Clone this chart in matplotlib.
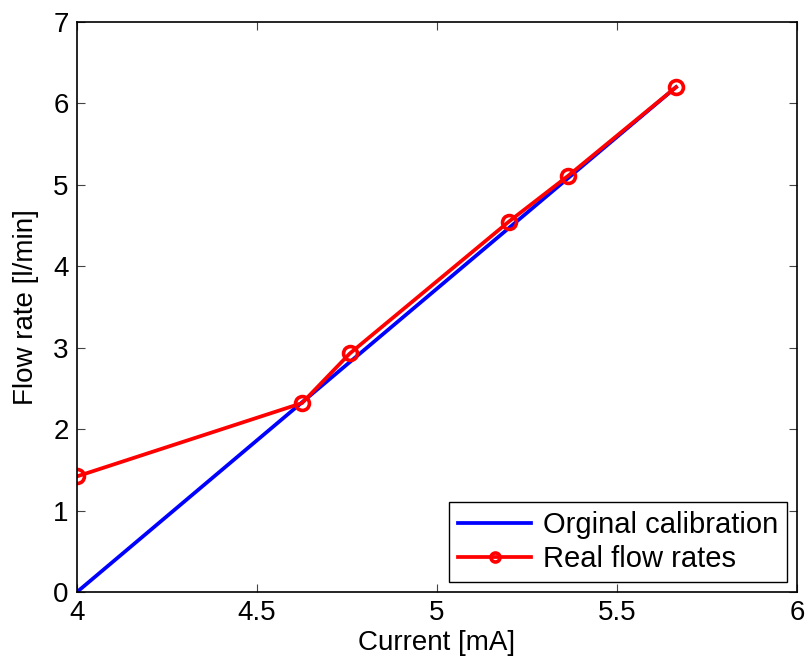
import matplotlib
matplotlib.use("Agg")
import matplotlib.pyplot as plt

calib_current = [4.0, 5.664]
calib_flow = [0.0, 6.2]

real_current = [4.0, 4.625, 4.758, 5.2, 5.364, 5.664]
real_flow = [1.42, 2.32, 2.93, 4.55, 5.11, 6.2]

plt.rcParams["font.family"] = ["Liberation Sans", "DejaVu Sans"]

fig = plt.figure(figsize=(8.08, 6.66), dpi=100)
ax = fig.add_axes([77 / 808, 74 / 666, 720 / 808, 570 / 666])

ax.plot(calib_current, calib_flow, color="blue", linewidth=2.7,
        label="Orginal calibration")
ax.plot(real_current, real_flow, color="red", linewidth=2.7, marker="o",
        markersize=10, markerfacecolor="none", markeredgewidth=2.6,
        label="Real flow rates")

ax.set_xlim(4, 6)
ax.set_ylim(0, 7)
ax.set_xticks([4, 4.5, 5, 5.5, 6])
ax.set_xticklabels(["4", "4.5", "5", "5.5", "6"])
ax.set_yticks(range(8))
ax.tick_params(direction="in", length=6, width=0.8, labelsize=20,
               top=True, right=True, color="#444444", pad=6)
for s in ax.spines.values():
    s.set_linewidth(1.2)

ax.set_xlabel("Current [mA]", fontsize=20, labelpad=3)
ax.set_ylabel("Flow rate [l/min]", fontsize=20, labelpad=10)

leg = ax.legend(loc="lower right", fontsize=21, fancybox=False,
                edgecolor="black", framealpha=1, handlelength=2.5,
                borderaxespad=0.35, handletextpad=0.4, labelspacing=0.2,
                borderpad=0.3, markerscale=0.65)
leg.get_frame().set_linewidth(1.0)

fig.savefig("out.png", dpi=100)
